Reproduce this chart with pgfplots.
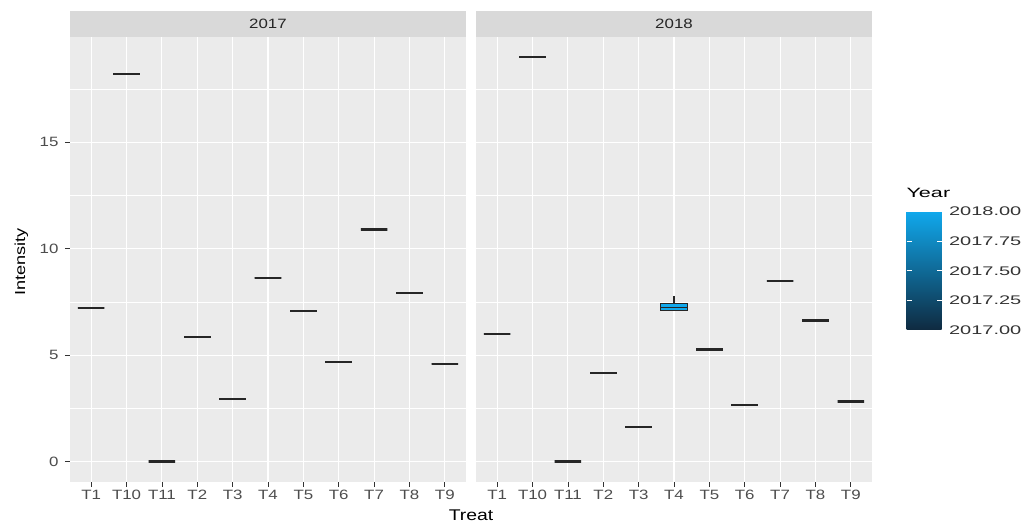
\documentclass[border=0pt]{standalone}
\usepackage{pgfplots}
\pgfplotsset{compat=1.18}
\usepgfplotslibrary{statistics}
\usepackage{fontspec}
\setmainfont[FakeStretch=1.25]{Liberation Sans}
\newfontfamily\legfont[FakeStretch=1.6]{Liberation Sans}

\definecolor{panel}{HTML}{EBEBEB}
\definecolor{strip}{HTML}{D9D9D9}
\definecolor{txt}{HTML}{4D4D4D}
\definecolor{lo}{HTML}{0F2A40}
\definecolor{hi}{HTML}{10A8EC}

\pgfplotsset{
  facet/.style={scale only axis, width=396pt, height=444.7pt, anchor=south west,
    xmin=0.4, xmax=11.6, ymin=-0.95, ymax=19.95,
    xtick={1,...,11}, xticklabels={T1,T10,T11,T2,T3,T4,T5,T6,T7,T8,T9},
    ytick={0,5,10,15}, minor ytick={2.5,7.5,12.5,17.5},
    grid=both, major grid style={white, line width=1.1pt},
    minor grid style={white, line width=0.55pt},
    axis background/.style={fill=panel}, axis line style={draw=none},
    tick align=outside, tick pos=left, major tick length=5pt, minor tick length=0pt,
    tick style={black!80, line width=0.8pt},
    tick label style={font=\fontsize{13.5}{15}\selectfont, text=txt},
    yticklabel style={xshift=-3pt},
    /pgf/number format/assume math mode=true,
    boxplot/draw direction=y, boxplot/box extend=0.75, boxplot/whisker extend=0,
    boxplot/every median/.style={draw=black!85, line width=2.2pt},
  },
}

% flat box: position, value, fill
\newcommand{\flatbox}[3]{%
  \addplot[draw=black!85, line width=2.2pt, fill=#3,
    boxplot prepared={draw position=#1, lower whisker=#2, lower quartile=#2,
      median=#2, upper quartile=#2, upper whisker=#2}] coordinates {};}

\begin{document}
\begin{tikzpicture}
\path[use as bounding box] (0,0) rectangle (1033pt,524pt);

% facet strips
\fill[strip] (70pt,487pt) rectangle (466pt,513pt);
\fill[strip] (476pt,487pt) rectangle (872pt,513pt);
\node[font=\fontsize{13.5}{15}\selectfont, text=black!85] at (268pt,500pt) {2017};
\node[font=\fontsize{13.5}{15}\selectfont, text=black!85] at (674pt,500pt) {2018};

\begin{axis}[facet, at={(70pt,42.3pt)}]
\flatbox{1}{7.22}{lo}
\flatbox{2}{18.2}{lo}
\flatbox{3}{0}{lo}
\flatbox{4}{5.86}{lo}
\flatbox{5}{2.93}{lo}
\flatbox{6}{8.63}{lo}
\flatbox{7}{7.06}{lo}
\flatbox{8}{4.68}{lo}
\flatbox{9}{10.9}{lo}
\flatbox{10}{7.91}{lo}
\flatbox{11}{4.6}{lo}
\end{axis}

\begin{axis}[facet, at={(476pt,42.3pt)}, yticklabels={}, ytick style={draw=none},
  colorbar, colormap={yr}{color=(lo) color=(hi)},
  point meta min=2017, point meta max=2018, colorbar/width=35pt,
  colorbar style={at={(parent axis.south east)}, anchor=south west,
    xshift=26pt, yshift=151.7pt, scale only axis, width=35pt, height=118.3pt,
    xmin=0, xmax=1, ymin=2017, ymax=2018, xtick=\empty, minor ytick={},
    ytick={2017,2017.25,2017.5,2017.75,2018},
    grid=none, axis background/.style={fill=none}, axis line style={draw=none},
    ytick pos=both, yticklabel pos=right, tick align=inside,
    major tick length=5pt, tick style={white, line width=0.8pt},
    yticklabel style={font=\legfont\fontsize{12.5}{14}\selectfont, text=black!80,
      xshift=4pt,
      /pgf/number format/.cd, fixed, fixed zerofill, precision=2, 1000 sep={},
      assume math mode=true}},
]
\flatbox{1}{6.0}{hi}
\flatbox{2}{19.0}{hi}
\flatbox{3}{0}{hi}
\flatbox{4}{4.15}{hi}
\flatbox{5}{1.61}{hi}
\addplot[draw=black!85, line width=1.2pt, fill=hi,
  boxplot/every median/.style={draw=black!85, line width=1.2pt},
  boxplot prepared={draw position=6, lower whisker=7.08, lower quartile=7.08,
    median=7.25, upper quartile=7.42, upper whisker=7.78}] coordinates {};
\flatbox{7}{5.26}{hi}
\flatbox{8}{2.66}{hi}
\flatbox{9}{8.49}{hi}
\flatbox{10}{6.63}{hi}
\flatbox{11}{2.82}{hi}
\end{axis}

% axis titles and legend title
\node[font=\fontsize{15.5}{18}\selectfont, anchor=base] at (471pt,3pt) {Treat};
\node[font=\fontsize{14.5}{17}\selectfont, rotate=90, anchor=base] at (25pt,262pt) {Intensity};
\node[font=\legfont\fontsize{13.5}{15}\selectfont, anchor=base west] at (903pt,326.3pt) {Year};
\end{tikzpicture}
\end{document}
